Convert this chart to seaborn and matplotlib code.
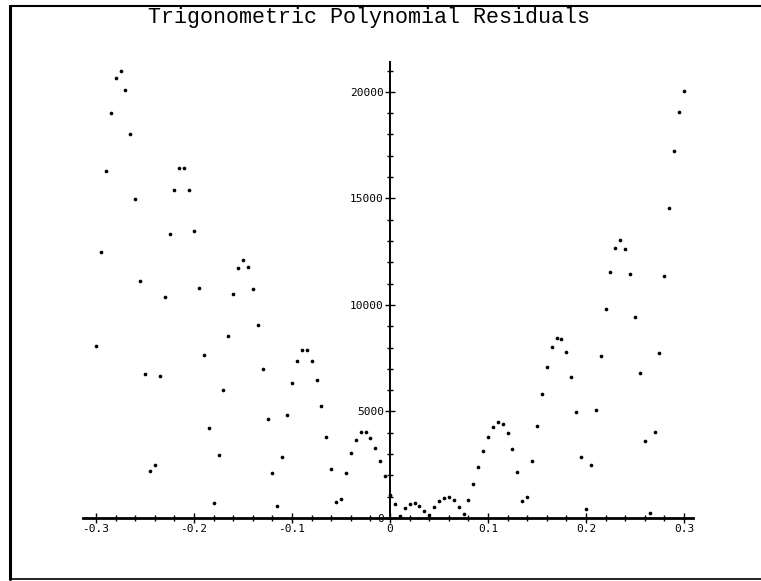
import matplotlib
matplotlib.use("Agg")
import matplotlib.pyplot as plt
import seaborn as sns
import pandas as pd
from matplotlib.lines import Line2D
from matplotlib.ticker import MultipleLocator, FixedLocator

# ---- data ----
x_values = [
    -0.300, -0.295, -0.290, -0.285, -0.280, -0.275, -0.270, -0.265, -0.260, -0.255,
    -0.250, -0.245, -0.240, -0.235, -0.230, -0.225, -0.220, -0.215, -0.210, -0.205,
    -0.200, -0.195, -0.190, -0.185, -0.180, -0.175, -0.170, -0.165, -0.160, -0.155,
    -0.150, -0.145, -0.140, -0.135, -0.130, -0.125, -0.120, -0.115, -0.110, -0.105,
    -0.100, -0.095, -0.090, -0.085, -0.080, -0.075, -0.070, -0.065, -0.060, -0.055,
    -0.050, -0.045, -0.040, -0.035, -0.030, -0.025, -0.020, -0.015, -0.010, -0.005,
    0.000, 0.005, 0.010, 0.015, 0.020, 0.025, 0.030, 0.035, 0.040, 0.045,
    0.050, 0.055, 0.060, 0.065, 0.070, 0.075, 0.080, 0.085, 0.090, 0.095,
    0.100, 0.105, 0.110, 0.115, 0.120, 0.125, 0.130, 0.135, 0.140, 0.145,
    0.150, 0.155, 0.160, 0.165, 0.170, 0.175, 0.180, 0.185, 0.190, 0.195,
    0.200, 0.205, 0.210, 0.215, 0.220, 0.225, 0.230, 0.235, 0.240, 0.245,
    0.250, 0.255, 0.260, 0.265, 0.270, 0.275, 0.280, 0.285, 0.290, 0.295,
    0.300,
]
residuals = [
    8060, 12500, 16280, 19030, 20630, 20970, 20100, 18040, 14960, 11100,
    6760, 2220, 2490, 6680, 10380, 13350, 15400, 16430, 16430, 15390,
    13460, 10810, 7650, 4210, 690, 2940, 6010, 8560, 10490, 11710,
    12130, 11770, 10740, 9060, 7000, 4630, 2110, 580, 2860, 4820,
    6340, 7370, 7890, 7870, 7370, 6480, 5260, 3820, 2300, 750,
    880, 2110, 3050, 3680, 4020, 4020, 3740, 3300, 2680, 1980,
    1100, 640, 80, 470, 670, 700, 560, 330, 140, 520,
    780, 950, 990, 860, 520, 200, 850, 1610, 2410, 3160,
    3820, 4270, 4490, 4430, 3980, 3240, 2140, 800, 1000, 2680,
    4320, 5820, 7090, 8010, 8470, 8420, 7810, 6640, 4980, 2880,
    420, 2470, 5090, 7610, 9810, 11550, 12680, 13050, 12630, 11430,
    9440, 6790, 3630, 220, 4020, 7760, 11360, 14570, 17200, 19060,
    20060,
]
x_ticks = [-0.3, -0.2, -0.1, 0.0, 0.1, 0.2, 0.3]
x_tick_labels = ["-0.3", "-0.2", "-0.1", "0", "0.1", "0.2", "0.3"]
y_ticks = [0, 5000, 10000, 15000, 20000]
y_tick_labels = ["0", "5000", "10000", "15000", "20000"]
title = "Trigonometric Polynomial Residuals"

df = pd.DataFrame({"x": x_values, "residual": residuals})

sns.set_theme(style="white")
plt.rcParams["font.family"] = ["DejaVu Sans Mono", "DejaVu Sans"]

W, H = 761, 581
fig = plt.figure(figsize=(W / 100, H / 100), dpi=100)
fig.patch.set_facecolor("white")

left_px, right_px = 83.3, 692.8
bottom_px, top_px = 518, 62
ax = fig.add_axes([left_px / W, 1 - bottom_px / H,
                   (right_px - left_px) / W, (bottom_px - top_px) / H])
ax.set_facecolor("white")

sns.scatterplot(data=df, x="x", y="residual", ax=ax, color="black",
                s=7, linewidth=0, marker="o", clip_on=False, legend=False, zorder=5)

ax.set_xlim(-0.313, 0.309)
ax.set_ylim(0, 21400)

for side in ("top", "right"):
    ax.spines[side].set_visible(False)
ax.spines["left"].set_position(("data", 0))
ax.spines["bottom"].set_position(("data", 0))
ax.spines["left"].set_linewidth(1.4)
ax.spines["bottom"].set_linewidth(2.0)
ax.spines["left"].set_color("black")
ax.spines["bottom"].set_color("black")

ax.xaxis.set_major_locator(FixedLocator(x_ticks))
ax.set_xticklabels(x_tick_labels)
ax.xaxis.set_minor_locator(MultipleLocator(0.02))
ax.yaxis.set_major_locator(FixedLocator(y_ticks))
ax.set_yticklabels(y_tick_labels)
ax.yaxis.set_minor_locator(MultipleLocator(1000))

ax.tick_params(which="major", direction="inout", length=7, width=1.0,
               colors="black", labelsize=8, pad=1)
ax.tick_params(which="minor", direction="inout", length=4, width=1.0, colors="black")
ax.tick_params(axis="x", which="both", bottom=True)
ax.tick_params(axis="y", which="both", left=True)

ax.set_xlabel("")
ax.set_ylabel("")
ax.grid(False)

fig.text(369 / W, 1 - 22.5 / H, title, ha="center", va="baseline",
         fontsize=15.6, family=["Liberation Mono", "DejaVu Sans Mono"], color="black")

# frame around the figure (top, left, bottom lines)
def fx(px):
    return px / W

def fy(py):
    return 1 - py / H

fig.add_artist(Line2D([fx(10), fx(761)], [fy(5.5), fy(5.5)], transform=fig.transFigure,
                      color="black", linewidth=1.5))
fig.add_artist(Line2D([fx(10), fx(10)], [fy(5.5), fy(579)], transform=fig.transFigure,
                      color="black", linewidth=2.2))
fig.add_artist(Line2D([fx(10), fx(761)], [fy(579), fy(579)], transform=fig.transFigure,
                      color="black", linewidth=1.2))

fig.savefig("out.png", dpi=100, facecolor="white")
